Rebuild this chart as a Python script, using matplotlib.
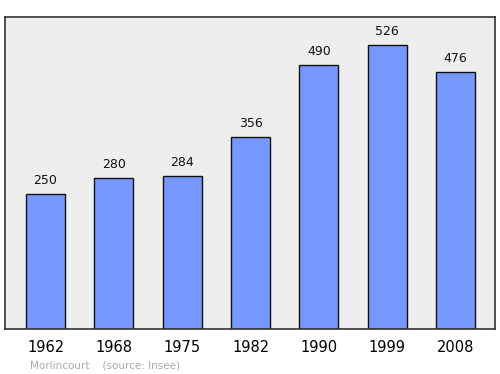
import matplotlib
matplotlib.use("Agg")
import matplotlib.pyplot as plt

years = ["1962", "1968", "1975", "1982", "1990", "1999", "2008"]
population = [250, 280, 284, 356, 490, 526, 476]

fig = plt.figure(figsize=(5.0, 3.74), dpi=100)
ax = fig.add_axes([0.01, 0.1203, 0.98, 0.8342])
ax.set_facecolor("#eeeeee")
x = list(range(len(years)))
ax.bar(x, population, width=0.57, color="#7799ff", edgecolor="#111111", linewidth=1.0, zorder=2)
for xi, v in zip(x, population):
    ax.annotate(str(v), (xi, v), xytext=(0, 5), textcoords="offset points",
                ha="center", va="bottom", fontsize=9, color="#111111")
ax.set_xlim(-0.593, 6.578)
ax.set_ylim(0, 578)
ax.set_yticks([])
ax.set_xticks(x)
ax.set_xticklabels(years, fontsize=10.5)
ax.tick_params(axis="x", length=0, pad=8)
for s in ax.spines.values():
    s.set_color("#333333")
    s.set_linewidth(1.2)
fig.text(0.06, 0.016, "Morlincourt    (source: Insee)", fontsize=7.5, color="#aaaaaa")
fig.savefig("out.png", dpi=100)
